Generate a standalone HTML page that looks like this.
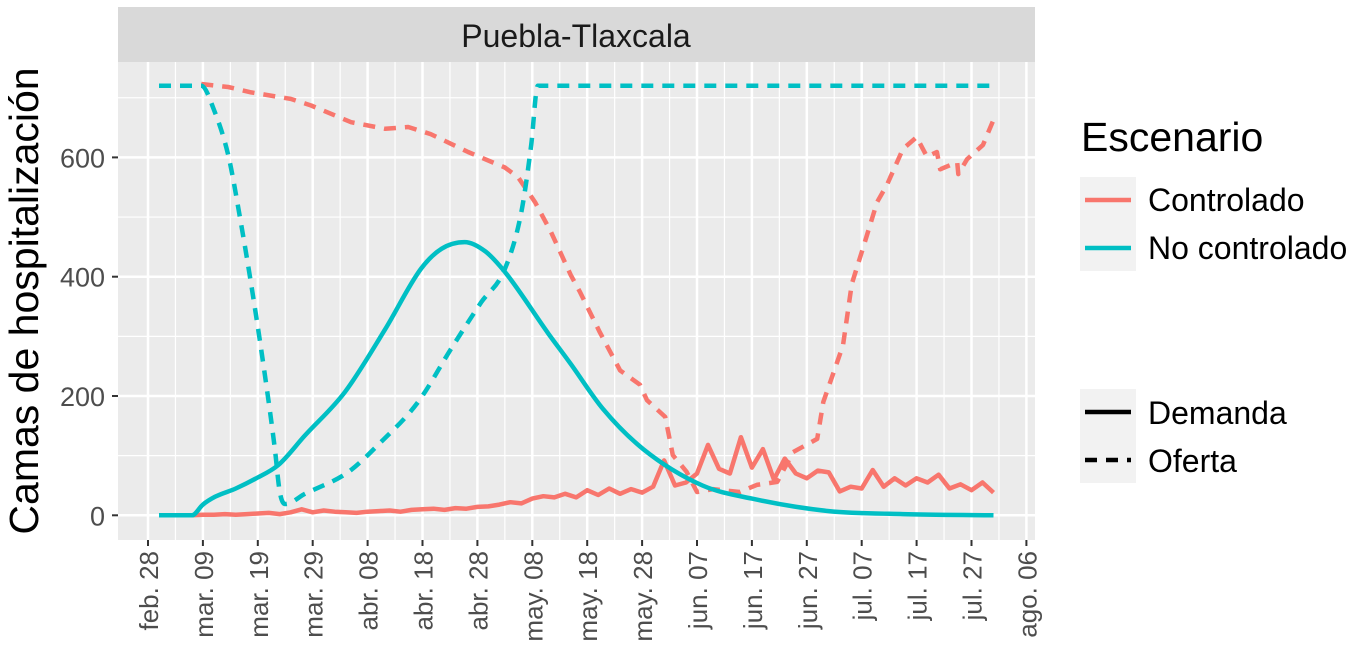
<!DOCTYPE html>
<html><head><meta charset="utf-8"><style>
body{margin:0;background:#fff;}
svg{display:block;font-family:"Liberation Sans",Arial,sans-serif;}
</style></head><body>
<svg id="chart" width="1360" height="666" viewBox="0 0 1360 666">
<rect x="118" y="7" width="917" height="55" fill="#d9d9d9"/>
<text x="576" y="47" font-size="32" text-anchor="middle" fill="#1a1a1a">Puebla-Tlaxcala</text>
<rect x="118" y="62" width="917" height="478" fill="#ebebeb"/>
<g id="grid"></g><g id="series"></g><g id="axes"></g>
<text transform="translate(38,301) rotate(-90)" font-size="41" text-anchor="middle" fill="#000">Camas de hospitalización</text>
<g>
<text x="1081" y="151" font-size="41" fill="#000">Escenario</text>
<rect x="1080" y="177" width="56" height="94" fill="#f2f2f2"/>
<line x1="1085" y1="200" x2="1131" y2="200" stroke="#F8766D" stroke-width="4.5"/>
<line x1="1085" y1="248" x2="1131" y2="248" stroke="#00BFC4" stroke-width="4.5"/>
<text x="1148" y="211" font-size="32" fill="#000">Controlado</text>
<text x="1148" y="259" font-size="32" fill="#000">No controlado</text>
<rect x="1080" y="389" width="56" height="94" fill="#f2f2f2"/>
<line x1="1085" y1="412" x2="1131" y2="412" stroke="#000" stroke-width="4.5"/>
<line x1="1085" y1="460" x2="1131" y2="460" stroke="#000" stroke-width="4.5" stroke-dasharray="12 9"/>
<text x="1148" y="424" font-size="32" fill="#000">Demanda</text>
<text x="1148" y="472" font-size="32" fill="#000">Oferta</text>
</g>
</svg>
<script>
const xTickLabels=["feb. 28","mar. 09","mar. 19","mar. 29","abr. 08","abr. 18","abr. 28","may. 08","may. 18","may. 28","jun. 07","jun. 17","jun. 27","jul. 07","jul. 17","jul. 27","ago. 06"];
const yTicks=[0,200,400,600];
// day index since feb 28
const noDemDays=[2,8,10,12.2,16,19.5,23.7,28.6,35.9,43.2,49.7,53.5,57.7,61.5,65,72.9,76.9,82.9,90.2,101,110,124,137.5,154];
const noDemVals=[0,0,18,31,45,61,84,134,207,312,413,447,458,442,408,305,255,178,111,50,28,7,2,0];
const noOfDays=[2,9.7,12,14.6,16.8,19.1,21.3,23.1,24,25,28.6,36.4,41.9,49.2,55.2,60.7,65,68,69.8,71,154];
const noOfVals=[720,720,680,604,497,369,235,112,39,19,36,72,118,190,279,357,413,508,621,720,720];
const coOfDays=[9.7,14.6,18.8,26,29.7,37,43.2,47.4,51.5,58.3,61.4,65,67.4,70.5,73.4,77,78.7,82.3,86,89.6,90.9,94.2,95.6,98.1,100,102.9,107.8,110.9,114.6,117.5,121.9,123,126.6,128.2,130.2,132.8,134.6,137.5,140,141.9,143.7,144.3,147.4,147.6,149.2,152.1,154];
const coOfVals=[723,718,709,698,687,659,648,651,639,609,597,583,567,525,475,403,374,307,243,219,193,165,101,73,39,44,39,51,56,106,128,190,285,388,447,525,554,614,634,601,609,580,592,572,597,621,663];
const coDemDays=[8,10,12,14,16,18,20,22,24,26,28,30,32,34,36,38,40,42,44,46,48,50,52,54,56,58,60,62,64,66,68,70,72,74,76,78,80,82,84,86,88,90,92,94,96,98,100,102,104,106,108,110,112,114,116,118,120,122,124,126,128,130,132,134,136,138,140,142,144,146,148,150,152,154];
const coDemVals=[0,1,1,2,1,2,3,4,2,5,10,5,8,6,5,4,6,7,8,6,9,10,11,9,12,11,14,15,18,22,20,28,32,30,36,30,42,34,45,36,44,38,48,92,50,55,70,118,78,70,131,80,111,60,95,70,62,75,72,40,48,45,76,48,62,50,62,55,68,45,52,42,55,38];

const NS="http://www.w3.org/2000/svg";
const X0=148, PXD=5.49, Y0=515.3, PXU=0.5965;
const xs=d=>X0+PXD*d, ys=v=>Y0-PXU*v;
function mk(tag,attrs,parent){const e=document.createElementNS(NS,tag);for(const k in attrs)e.setAttribute(k,attrs[k]);parent.appendChild(e);return e;}
const grid=document.getElementById('grid'),series=document.getElementById('series'),axes=document.getElementById('axes');
for(let v=100;v<=700;v+=200){const l=mk('line',{x1:118,x2:1035,y1:ys(v),y2:ys(v),stroke:'#fff','stroke-width':1.2},grid);

}
for(let i=0;i<xTickLabels.length;i++){const d=i*10+5;if(xs(d)<1035){const l=mk('line',{x1:xs(d),x2:xs(d),y1:62,y2:540,stroke:'#fff','stroke-width':1.2},grid);

}}
yTicks.forEach(v=>{const l=mk('line',{x1:118,x2:1035,y1:ys(v),y2:ys(v),stroke:'#fff','stroke-width':2.5},grid);


const t=mk('line',{x1:112,x2:118,y1:ys(v),y2:ys(v),stroke:'#333','stroke-width':2},axes);


const tx=mk('text',{x:105,y:ys(v)+10,'font-size':27,'text-anchor':'end',fill:'#4d4d4d'},axes);tx.textContent=v;

});
xTickLabels.forEach((lab,i)=>{const x=xs(i*10);
const l=mk('line',{x1:x,x2:x,y1:62,y2:540,stroke:'#fff','stroke-width':2.5},grid);


const t=mk('line',{x1:x,x2:x,y1:540,y2:546,stroke:'#333','stroke-width':2},axes);


const tx=mk('text',{transform:`translate(${x+10},551) rotate(-90)`,'font-size':26,'text-anchor':'end',fill:'#4d4d4d'},axes);tx.textContent=lab;

});
function pathD(pts,smooth){if(!smooth)return 'M'+pts.map(p=>p[0].toFixed(1)+','+p[1].toFixed(1)).join(' L');
// monotone cubic (Fritsch-Carlson)
const n=pts.length,dl=[],m=[];
for(let i=0;i<n-1;i++)dl.push((pts[i+1][1]-pts[i][1])/(pts[i+1][0]-pts[i][0]));
m[0]=dl[0];m[n-1]=dl[n-2];
for(let i=1;i<n-1;i++){m[i]=(dl[i-1]*dl[i]<=0)?0:(dl[i-1]+dl[i])/2;}
for(let i=0;i<n-1;i++){if(dl[i]===0){m[i]=0;m[i+1]=0;continue;}const a=m[i]/dl[i],b=m[i+1]/dl[i],s=a*a+b*b;if(s>9){const t=3/Math.sqrt(s);m[i]=t*a*dl[i];m[i+1]=t*b*dl[i];}}
let d='M'+pts[0][0].toFixed(1)+','+pts[0][1].toFixed(1);
for(let i=0;i<n-1;i++){const h=(pts[i+1][0]-pts[i][0])/3;
d+=` C${(pts[i][0]+h).toFixed(1)},${(pts[i][1]+m[i]*h).toFixed(1)} ${(pts[i+1][0]-h).toFixed(1)},${(pts[i+1][1]-m[i+1]*h).toFixed(1)} ${pts[i+1][0].toFixed(1)},${pts[i+1][1].toFixed(1)}`;}
return d;}
function line(days,vals,color,dash,name,smooth){const pts=days.map((d,i)=>[xs(d),ys(vals[i])]);
const a={d:pathD(pts,smooth),fill:'none',stroke:color,'stroke-width':4.5,'stroke-linejoin':'round'};if(dash)a['stroke-dasharray']='12 9';
const e=mk('path',a,series);

}
line(coDemDays,coDemVals,'#F8766D',false,'controlado-demanda-line',false);
line(coOfDays,coOfVals,'#F8766D',true,'controlado-oferta-line',false);
line(noDemDays,noDemVals,'#00BFC4',false,'no-controlado-demanda-line',true);
line(noOfDays,noOfVals,'#00BFC4',true,'no-controlado-oferta-line',true);
</script>
</body></html>
